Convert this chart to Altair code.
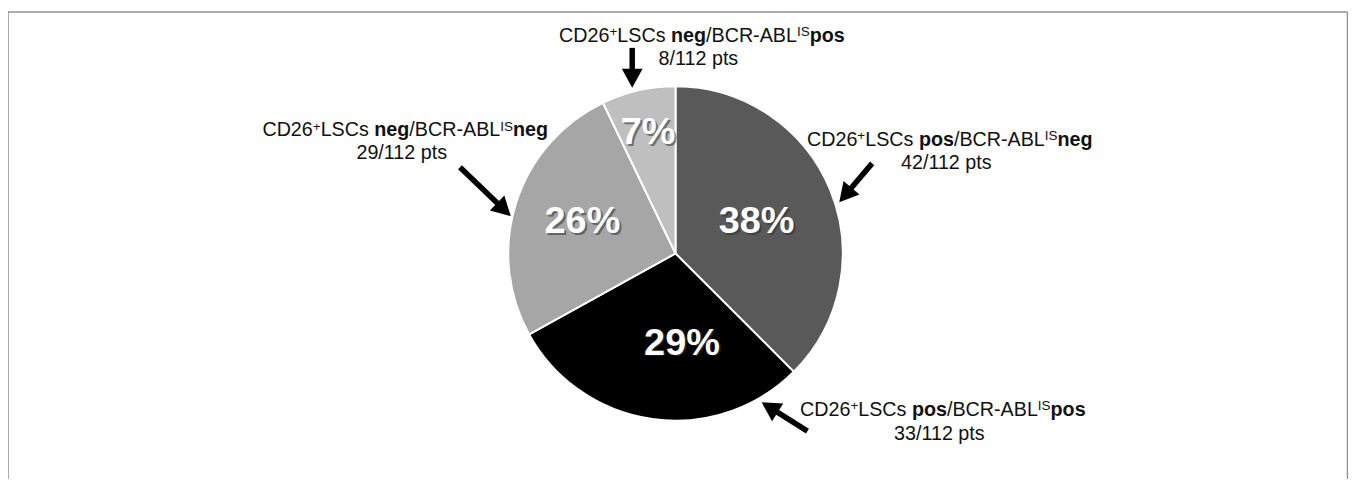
import math
import altair as alt
import pandas as pd

# ---------------- data ----------------
groups = ["pos/neg", "pos/pos", "neg/neg", "neg/pos"]
lsc_status = ["pos", "pos", "neg", "neg"]
bcr_status = ["neg", "pos", "neg", "pos"]
patients = [42, 33, 29, 8]
total = 112
slice_colors = ["#595959", "#000000", "#a6a6a6", "#bfbfbf"]

# ---------------- layout (page pixels) ----------------
OX, OY = 8, 8
W, H = 1346, 472
pie_cx, pie_cy, pie_r = 678.5 - OX, 253.5 - OY, 168
pct_pos = [(760, 233), (685, 355), (585, 233), (651, 144)]
label_pos = [(954, 146, 169), (947, 417, 441), (407, 136, 159), (705, 41, 64)]
arrow_tail = [(876, 163), (811, 432), (462, 167), (635, 47)]
arrow_tip = [(843, 202), (765, 403), (513, 216), (635, 87)]

FS = 19.8
SFS = 13.5
RAISE = 6

reg_w = {'C': 722, 'D': 722, '2': 556, '6': 556, '+': 584, 'L': 556, 'S': 667, 's': 500,
         ' ': 278, '/': 278, 'B': 667, 'R': 722, '-': 333, 'A': 667, 'I': 278}
bold_w = {'n': 611, 'e': 556, 'g': 611, 'p': 611, 'o': 611, 's': 556}


def tw(text, bold, size):
    table = bold_w if bold else reg_w
    return sum(table.get(ch, 556) for ch in text) / 1000.0 * size


reg_rows, bold_rows = [], []
for i, g in enumerate(groups):
    cx, b1, b2 = label_pos[i]
    segs = [("CD26", False, FS, 0), ("+", False, SFS, RAISE), ("LSCs ", False, FS, 0),
            (lsc_status[i], True, FS, 0), ("/BCR-ABL", False, FS, 0), ("IS", False, SFS, RAISE),
            (bcr_status[i], True, FS, 0)]
    totw = sum(tw(t, b, s) for t, b, s, _ in segs)
    x = cx - totw / 2
    for t, b, s, r in segs:
        row = {"x": x - OX, "y": b1 - r - OY, "text": t, "size": s}
        (bold_rows if b else reg_rows).append(row)
        x += tw(t, b, s)
    line2 = f"{patients[i]}/{total} pts"
    reg_rows.append({"x": cx - tw(line2, False, FS) / 2 - OX, "y": b2 - OY, "text": line2, "size": FS})

pie_df = pd.DataFrame({"group": groups, "n": patients, "idx": list(range(len(groups)))})
pct_df = pd.DataFrame({
    "x": [p[0] - OX for p in pct_pos],
    "y": [p[1] - OY for p in pct_pos],
    "text": [f"{int(n * 100 / total + 0.5)}%" for n in patients],
})

shaft_rows, head_rows = [], []
for (tx, ty), (px, py) in zip(arrow_tail, arrow_tip):
    dx, dy = px - tx, py - ty
    L = math.hypot(dx, dy)
    ux, uy = dx / L, dy / L
    ex, ey = px - ux * 12, py - uy * 12
    shaft_rows.append({"x": tx - OX, "y": ty - OY, "x2": ex - OX, "y2": ey - OY})
    ang = math.degrees(math.atan2(dx, -dy)) % 360
    head_rows.append({"x": px - OX, "y": py - OY, "ang": ang})

frame_df = pd.DataFrame({
    "x": [0, 0, 1353.5 - OX],
    "y": [11 - OY, 11 - OY, 11 - OY],
    "x2": [1353.5 - OX, 0, 1353.5 - OX],
    "y2": [11 - OY, H, H],
})

xs = alt.Scale(domain=[0, W], nice=False, zero=False)
ys = alt.Scale(domain=[0, H], nice=False, zero=False, reverse=True)
X = lambda f="x": alt.X(f"{f}:Q", scale=xs, axis=None)
Y = lambda f="y": alt.Y(f"{f}:Q", scale=ys, axis=None)

frame = alt.Chart(frame_df).mark_rule(color="#8f8f8f", strokeWidth=1.5).encode(
    x=X(), y=Y(), x2="x2:Q", y2="y2:Q")

pie = alt.Chart(pie_df).mark_arc(radius=pie_r, stroke="white", strokeWidth=2).encode(
    theta=alt.Theta("n:Q", stack=True),
    order=alt.Order("idx:Q"),
    color=alt.Color("group:N", scale=alt.Scale(domain=groups, range=slice_colors), legend=None),
    x=alt.value(pie_cx), y=alt.value(pie_cy))

pct_shadow = alt.Chart(pct_df).mark_text(
    font="Liberation Sans", fontWeight="bold", fontSize=38, color="#303030", opacity=0.55,
    align="center", baseline="alphabetic", dx=2, dy=2).encode(x=X(), y=Y(), text="text:N")
pct = alt.Chart(pct_df).mark_text(
    font="Liberation Sans", fontWeight="bold", fontSize=38, color="white",
    align="center", baseline="alphabetic").encode(x=X(), y=Y(), text="text:N")

reg_text = alt.Chart(pd.DataFrame(reg_rows)).mark_text(
    font="Liberation Sans", color="#111111", align="left", baseline="alphabetic").encode(
    x=X(), y=Y(), text="text:N", size=alt.Size("size:Q", scale=None))
bold_text = alt.Chart(pd.DataFrame(bold_rows)).mark_text(
    font="Liberation Sans", fontWeight="bold", color="#111111", align="left", baseline="alphabetic").encode(
    x=X(), y=Y(), text="text:N", size=alt.Size("size:Q", scale=None))

shafts = alt.Chart(pd.DataFrame(shaft_rows)).mark_rule(color="black", strokeWidth=5.5, strokeCap="butt").encode(
    x=X(), y=Y(), x2="x2:Q", y2="y2:Q")
heads = alt.Chart(pd.DataFrame(head_rows)).mark_point(
    shape="M0,0L1.1,2L-1.1,2Z", filled=True, color="black", opacity=1, size=361, strokeWidth=0).encode(
    x=X(), y=Y(), angle=alt.Angle("ang:Q", scale=None))

chart = alt.layer(frame, pie, pct_shadow, pct, reg_text, bold_text, shafts, heads).properties(
    width=W, height=H, padding=0, background="white",
    autosize=alt.AutoSizeParams(type="none"),
).configure_view(stroke=None)

chart.save("out.html", embed_options={"renderer": "svg", "actions": False})
